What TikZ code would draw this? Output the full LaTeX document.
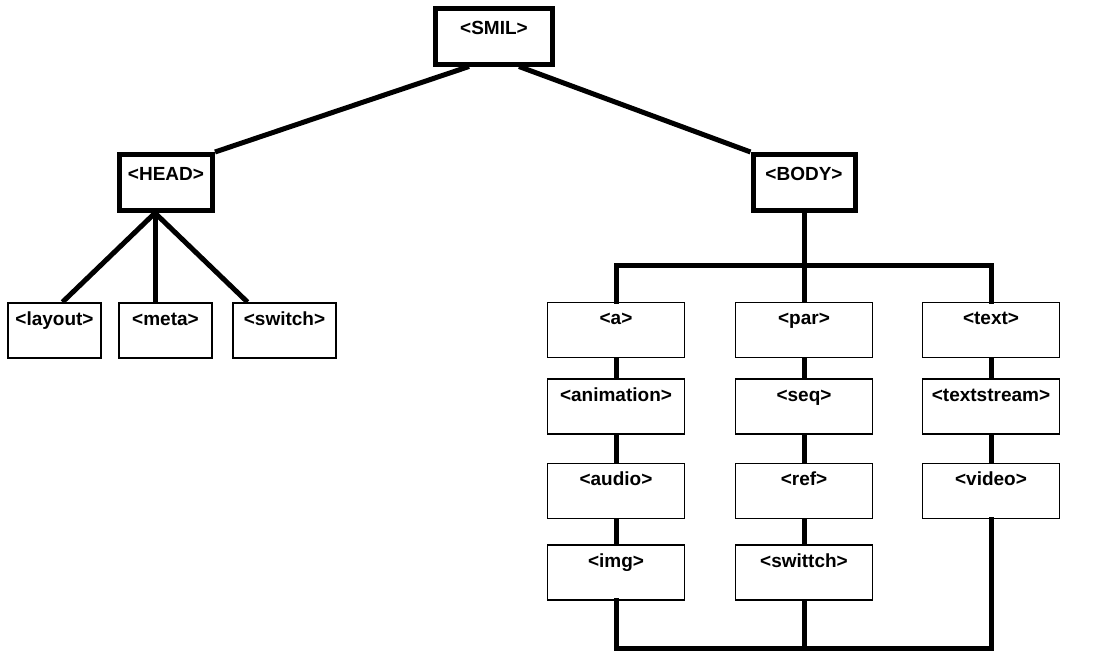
\documentclass[tikz,border=0pt]{standalone}
\usepackage{fontspec}
\setmainfont{Liberation Sans}
\usetikzlibrary{calc}
\begin{document}
\begin{tikzpicture}[x=1pt,y=-1pt,
  tagfont/.style={font=\bfseries\fontsize{19}{22}\selectfont},
  mainbox/.style={draw,line width=5pt,tagfont,inner xsep=0pt,inner ysep=0pt,
    text height=26pt,text depth=30pt,minimum height=56pt},
  leafbox/.style={draw,line width=1.8pt,tagfont,inner xsep=0pt,inner ysep=0pt,
    text height=22pt,text depth=33pt,minimum height=55pt,minimum width=#1},
  leafbox/.default=137pt,
  link/.style={line width=5pt},
  bar/.style={line width=5pt,line cap=rect}]
\useasboundingbox (0,0) rectangle (1112,651);

% root and the two main branches
\node[mainbox,minimum width=117pt] (smil) at (494,36) {<SMIL>};
\node[mainbox,minimum width=93pt]  (head) at (166,182.5) {<HEAD>};
\node[mainbox,minimum width=102pt] (body) at (804,182.5) {<BODY>};

% children of HEAD
\node[leafbox=93pt]  (layout) at (54.5,330.5) {<layout>};
\node[leafbox=93pt]  (meta)   at (165.5,330.5) {<meta>};
\node[leafbox=103pt] (hswitch) at (284.5,330.5) {<switch>};

% children of BODY, three columns
\node[leafbox] (a)    at (616,330) {<a>};
\node[leafbox] (anim) at (616,406.5) {<animation>};
\node[leafbox] (audio) at (616,491) {<audio>};
\node[leafbox] (img)  at (616,572.5) {<img>};

\node[leafbox] (par)  at (804,330) {<par>};
\node[leafbox] (seq)  at (804,406.5) {<seq>};
\node[leafbox] (ref)  at (804,491) {<ref>};
\node[leafbox] (bswitch) at (804,572.5) {<swittch>};

\node[leafbox] (text) at (991,330) {<text>};
\node[leafbox] (tstream) at (991,406.5) {<textstream>};
\node[leafbox] (video) at (991,491) {<video>};

% root to branches
\draw[link] ($(smil.south)+(-25,0)$) -- (head.north east);
\draw[link] ($(smil.south)+(25,0)$) -- (body.north west);

% HEAD fan-out
\coordinate (hfoot) at ($(head.south)+(-11,0)$);
\draw[link] (hfoot) -- ($(layout.north)+(8,0)$);
\draw[link] (hfoot) -- (hfoot |- meta.north);
\draw[link] (hfoot) -- ($(hswitch.north)+(-37,0)$);

% BODY bus on top
\coordinate (bus) at (body.south |- 0,265);
\draw[link] (body.south) -- (bus);
\draw[bar] (a.north) |- (text.north |- bus) -- (text.north);
\draw[link] (bus) -- (par.north);

% column chains
\draw[link] (a.south) -- (anim.north);
\draw[link] (anim.south) -- (audio.north);
\draw[link] (audio.south) -- (img.north);
\draw[link] (par.south) -- (seq.north);
\draw[link] (seq.south) -- (ref.north);
\draw[link] (ref.south) -- (bswitch.north);
\draw[link] (text.south) -- (tstream.north);
\draw[link] (tstream.south) -- (video.north);

% closing bus at the bottom
\coordinate (lowbus) at (0,648);
\draw[bar] (img.south) |- (video.south |- lowbus) -- (video.south);
\draw[link] (bswitch.south) -- (bswitch.south |- lowbus);
\end{tikzpicture}
\end{document}
